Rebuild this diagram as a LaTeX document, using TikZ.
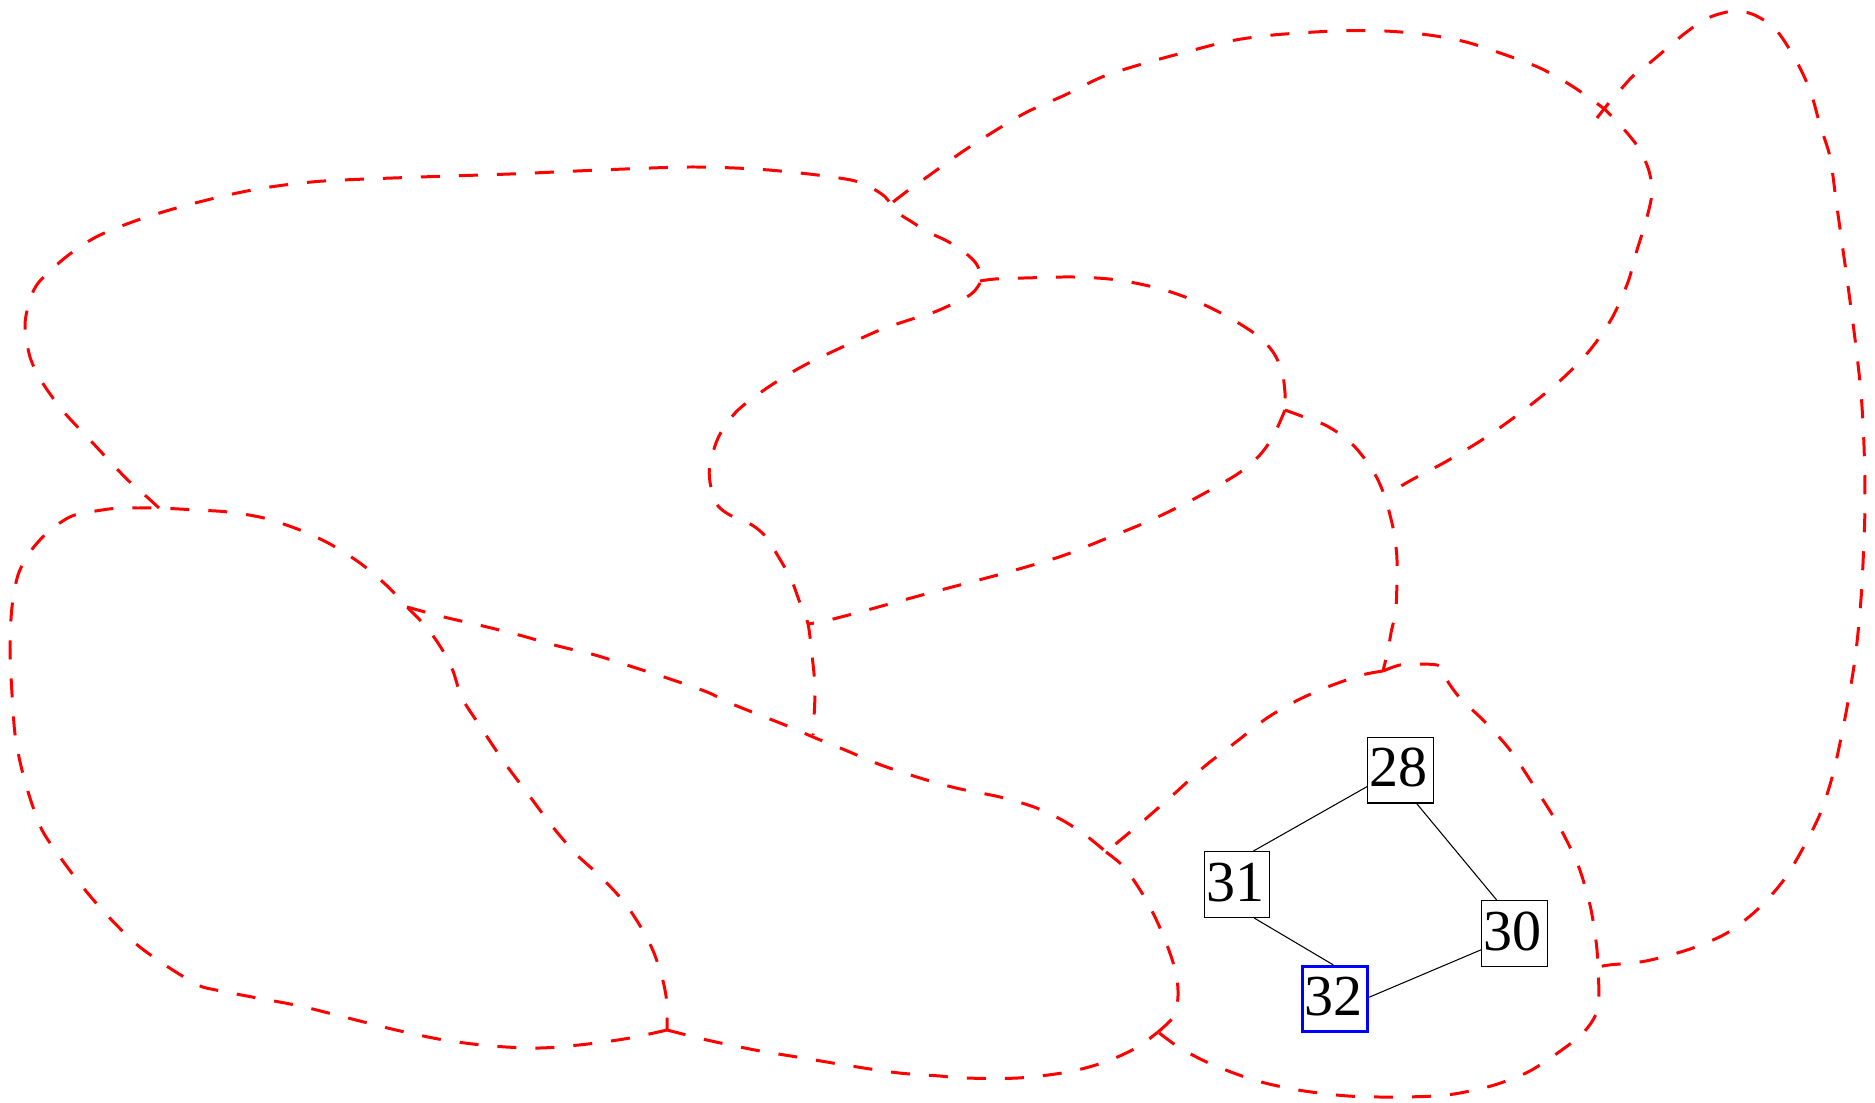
\documentclass[tikz,border=0pt]{standalone}
\usepackage{fontspec}
\setmainfont{Liberation Serif}
\begin{document}
\begin{tikzpicture}[x=0.01cm,y=-0.01cm,
  region/.style={draw=red, line width=0.85pt, dash pattern=on 0.19cm off 0.19cm},
  vbox/.style={draw=black, line width=0.37pt, text width=0.615cm, align=left, inner xsep=0.02cm, inner ysep=0pt,
    minimum height=0.655cm, text height=0.38cm, text depth=0.05cm, font=\fontsize{16.5}{19}\selectfont},
  hl/.style={draw=blue, line width=0.8pt},
  link/.style={draw=black, line width=0.3pt}]
\useasboundingbox (0,0) rectangle (1875,1103);

% top-left region (J1 -> J2 -> J3)
\draw[region] plot[smooth, tension=0.5] coordinates {(159,508) (147,497) (132,484) (118,470) (90,440) (63,411) (42,382) (30,357) (25,325) (30,300) (39,282) (66,257) (96,237) (135,221) (180,207) (228,195) (270,187) (324,181) (420,177) (510,174) (600,170) (689,167) (755,169) (809,174) (851,180) (868,186) (883,195) (891,204) (898,213) (912,222) (928,232) (947,241) (963,251) (975,262) (980,272) (980,281)};

% big top region (J2 -> J4 -> J6)
\draw[region] plot[smooth, tension=0.5] coordinates {(893,202) (910,189) (927,177) (962,152) (993,132) (1027,112) (1065,95) (1102,77) (1142,64) (1186,52) (1230,41) (1273,35) (1335,31) (1385,31) (1429,35) (1466,42) (1503,54) (1540,68) (1572,86) (1603,108) (1616,121) (1628,134) (1640,150) (1649,171) (1652,193) (1646,221) (1637,250) (1628,282) (1612,318) (1590,350) (1562,379) (1528,407) (1488,436) (1447,461) (1417,477) (1401,486) (1387,495)};

% middle region top (J3 -> J5)
\draw[region] plot[smooth, tension=0.5] coordinates {(980,281) (995,279) (1024,278) (1074,277) (1118,280) (1161,289) (1198,302) (1230,318) (1258,336) (1273,352) (1282,371) (1285,393) (1285,410)};

% middle region lower right (J5 -> J8)
\draw[region] plot[smooth, tension=0.5] coordinates {(1285,410) (1279,424) (1271,440) (1258,457) (1236,475) (1192,500) (1149,521) (1105,539) (1062,556) (1012,571) (975,581) (937,591) (900,601) (860,612) (825,621) (808,624)};

% middle region left (J3 -> J8 -> J9)
\draw[region] plot[smooth, tension=0.5] coordinates {(980,283) (970,295) (937,311) (909,320) (880,330) (851,343) (803,366) (767,388) (737,411) (719,436) (710,464) (710,482) (716,503) (728,514) (752,525) (766,537) (778,556) (791,579) (800,603) (808,624) (812,655) (815,687) (814,718) (813,735)};

% J5 -> J6 -> J10
\draw[region] plot[smooth, tension=0.5] coordinates {(1285,410) (1304,417) (1323,424) (1340,434) (1355,447) (1367,462) (1377,478) (1385,497) (1390,515) (1394,533) (1397,560) (1396,607) (1391,633) (1388,650) (1383,671)};

% small region upper left (J10 -> J11)
\draw[region] plot[smooth, tension=0.5] coordinates {(1383,671) (1362,675) (1330,686) (1298,700) (1267,718) (1236,742) (1205,766) (1174,794) (1142,822) (1118,842) (1106,852)};

% small region right and bottom (J10 -> J14 -> J13)
\draw[region] plot[smooth, tension=0.5] coordinates {(1383,671) (1400,665) (1419,664) (1437,665) (1445,670) (1447,680) (1460,698) (1485,722) (1510,750) (1534,786) (1559,826) (1578,865) (1590,905) (1596,941) (1598,967) (1598,1008) (1584,1032) (1559,1052) (1528,1072) (1491,1086) (1447,1095) (1398,1097) (1348,1096) (1298,1090) (1254,1080) (1211,1064) (1180,1048) (1158,1032)};

% small region lower left (J11 -> J13)
\draw[region] plot[smooth, tension=0.5] coordinates {(1106,852) (1124,867) (1142,893) (1155,917) (1167,945) (1176,973) (1178,996) (1174,1016) (1158,1032)};

% far right region (J4 -> J14)
\draw[region] plot[smooth, tension=0.5] coordinates {(1597,118) (1608,104) (1622,88) (1634,75) (1652,61) (1684,34) (1708,18) (1733,11) (1752,14) (1771,25) (1783,39) (1799,66) (1811,93) (1820,125) (1830,157) (1836,200) (1842,243) (1848,286) (1855,339) (1861,393) (1864,446) (1865,500) (1864,540) (1861,599) (1855,659) (1845,718) (1833,774) (1820,814) (1802,850) (1783,881) (1758,909) (1727,933) (1690,949) (1646,961) (1609,965) (1598,967)};

% bottom-left region (J12 -> around -> J1 -> J7 -> J12)
\draw[region] plot[smooth, tension=0.5] coordinates {(667,1030) (630,1038) (588,1044) (540,1048) (492,1046) (444,1040) (396,1030) (348,1018) (300,1006) (252,997) (216,990) (198,985) (165,965) (135,943) (105,913) (81,885) (60,857) (42,830) (30,798) (21,766) (15,734) (12,694) (10,647) (12,607) (18,575) (30,552) (48,532) (72,516) (102,510) (120,508) (138,508) (159,508) (197,510) (228,512) (264,518) (300,530) (330,544) (360,563) (384,583) (398,597) (407,607) (419,619) (431,633) (443,651) (453,671) (462,698) (480,726) (504,762) (528,794) (552,826) (576,854) (600,876) (624,902) (642,929) (654,953) (663,981) (667,1004) (667,1030)};

% diagonal (J7 -> J9 -> J11)
\draw[region] plot[smooth, tension=0.5] coordinates {(407,607) (444,617) (483,626) (519,635) (558,646) (595,655) (633,667) (670,679) (707,692) (730,703) (752,712) (790,727) (813,737) (845,750) (881,765) (920,778) (956,788) (1000,797) (1034,807) (1062,820) (1084,834) (1099,846) (1106,852)};

% bottom (J12 -> J13)
\draw[region] plot[smooth, tension=0.5] coordinates {(667,1030) (707,1040) (755,1050) (803,1058) (851,1066) (899,1073) (940,1076) (962,1078) (1018,1078) (1068,1072) (1105,1062) (1136,1048) (1158,1032)};

% graph
\node[vbox] (n28) at (1400.5,770.3) {28};
\node[vbox] (n31) at (1237,884.5) {31};
\node[vbox] (n30) at (1514.5,933.5) {30};
\node[vbox,hl] (n32) at (1335,999) {32};
\draw[link] (n28.206) -- (n31.64);
\draw[link] (n28.296) -- (n30.118);
\draw[link] (n31.297) -- (n32.93);
\draw[link] (n32.3) -- (n30.206);
\end{tikzpicture}
\end{document}
